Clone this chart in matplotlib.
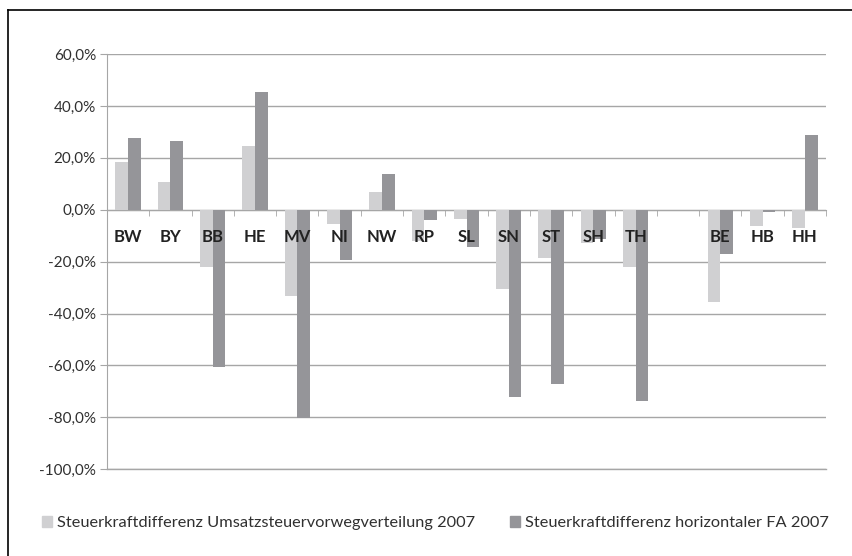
import numpy as np
import matplotlib.pyplot as plt
from matplotlib.lines import Line2D
from matplotlib.patches import Patch
from matplotlib.ticker import FuncFormatter, MultipleLocator

plt.rcParams['font.family'] = ['Lato', 'DejaVu Sans']

laender = ['BW', 'BY', 'BB', 'HE', 'MV', 'NI', 'NW', 'RP', 'SL', 'SN', 'ST', 'SH', 'TH', '', 'BE', 'HB', 'HH']
umsatzsteuer = [18.4, 10.7, -22.0, 24.4, -33.2, -5.6, 6.7, -12.0, -3.4, -30.5, -18.5, -12.8, -22.0,
                np.nan, -35.5, -6.2, -7.0]
horizontal_fa = [27.5, 26.3, -60.5, 45.2, -80.4, -19.4, 13.7, -4.0, -14.3, -72.0, -67.0, -11.2, -73.5,
                 np.nan, -17.0, -0.8, 28.7]
label_1 = 'Steuerkraftdifferenz Umsatzsteuervorwegverteilung 2007'
label_2 = 'Steuerkraftdifferenz horizontaler FA 2007'

c_light = '#d0d0d2'
c_dark = '#959599'
c_grid = '#a6a6a6'
c_text = '#303030'

fig = plt.figure(figsize=(8.52, 5.56), dpi=100)
ax = fig.add_axes([0.1256, 0.1559, 0.8439, 0.7470])

x = np.arange(len(laender))
w = 0.3
ax.bar(x - w / 2, umsatzsteuer, w, color=c_light, zorder=2)
ax.bar(x + w / 2, horizontal_fa, w, color=c_dark, zorder=2)

ax.set_xlim(-0.5, len(laender) - 0.5)
ax.set_ylim(-100, 60)
ax.yaxis.set_major_locator(MultipleLocator(20))
ax.yaxis.set_major_formatter(FuncFormatter(lambda v, p: ('%.1f%%' % v).replace('.', ',')))
ax.yaxis.grid(True, color=c_grid, linewidth=1.0)
ax.axhline(-100, color=c_grid, linewidth=1.0, clip_on=False, zorder=1)
ax.set_axisbelow(True)

for s in ['top', 'right']:
    ax.spines[s].set_visible(False)
ax.spines['left'].set_color(c_grid)
ax.spines['bottom'].set_color(c_grid)
ax.spines['bottom'].set_position(('data', 0))
ax.spines['bottom'].set_zorder(1)

ax.set_xticks([])
ax.set_xticks(np.arange(len(laender) + 1) - 0.5, minor=True)
ax.tick_params(axis='x', which='minor', length=4, color=c_grid, direction='out')
ax.tick_params(axis='y', length=5, color=c_grid, labelsize=11, labelcolor=c_text, pad=3)

for i, lab in enumerate(laender):
    ax.annotate(lab, (i, 0), xytext=(0, -19.5), textcoords='offset points', ha='center', va='center',
                fontsize=12, fontweight='bold', color='#222222', zorder=5)

# frame lines of the original figure
fig.add_artist(Line2D([8 / 852, 1], [1 - 10 / 556] * 2, color='black', linewidth=1.2))
fig.add_artist(Line2D([8 / 852] * 2, [0, 1 - 10 / 556], color='black', linewidth=1.2))

handles = [Patch(color=c_light), Patch(color=c_dark)]
fig.legend(handles, [label_1, label_2], loc='center', bbox_to_anchor=(0.511, 0.0594), ncol=2,
           frameon=False, fontsize=11.8, handlelength=0.62, handleheight=0.62, handletextpad=0.3,
           columnspacing=2.1, labelcolor=c_text, borderaxespad=0, borderpad=0)

fig.savefig('out.png', dpi=100)
